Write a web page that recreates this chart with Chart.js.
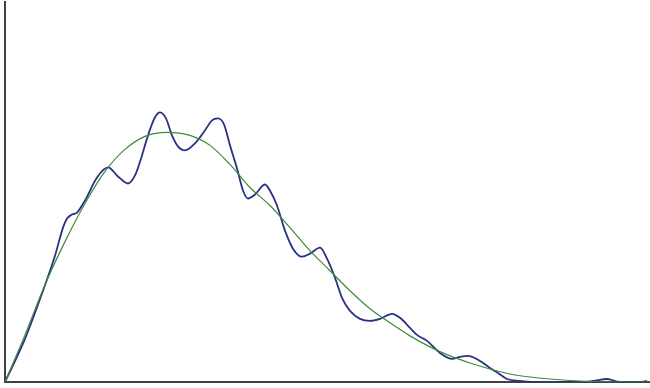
<!DOCTYPE html>
<html>
<head>
<meta charset="utf-8">
<script src="https://cdn.jsdelivr.net/npm/chart.js@4"></script>
<style>
  html, body { margin: 0; padding: 0; background: #ffffff; }
  #wrap { width: 650px; height: 388px; }
</style>
</head>
<body>
<div id="wrap"><canvas id="c" width="650" height="388"></canvas></div>
<script>
// Fitted smooth density (green)
const fitX = [0, 20, 40, 60, 80, 100, 120, 140, 162, 185, 205, 225, 245, 265, 285, 305, 325, 345, 365, 385, 405, 425, 445, 465, 485, 505, 525, 545, 575, 615, 645];
const fitY = [0, 47, 97, 140, 178, 210, 232, 245, 249, 246, 236, 217, 194, 176, 154, 131, 111, 91, 73, 59, 46, 35, 26, 19, 13, 8, 5, 3, 1, 0, 0];

// Empirical density estimate (blue)
const estX = [0, 20, 38, 50, 58, 62, 67, 72, 80, 92, 103, 113, 123, 130, 137, 143, 150, 155, 161, 167, 173, 180, 190, 200, 207, 213, 219, 225, 232, 238, 243, 250, 260, 266, 272, 280, 288, 297, 305, 315, 322, 330, 337, 345, 355, 365, 375, 387, 395, 405, 412, 422, 435, 447, 455, 463, 475, 485, 493, 502, 515, 528, 540, 575, 588, 602, 615, 625, 635, 642];
const estY = [0, 43, 91, 126, 154, 163, 167, 169, 181, 204, 214, 205, 198, 206, 226, 246, 264, 269, 263, 246, 235, 231, 238, 251, 261, 263, 257, 236, 213, 191, 183, 187, 197, 189, 176, 151, 133, 125, 128, 134, 123, 104, 84, 71, 63, 61, 63, 68, 64, 54, 47, 41, 29, 23, 25, 26, 21, 14, 9, 3, 1, 0, 0, 0, 1, 3, 0, 0, 0, 1];

const toPoints = (xs, ys) => xs.map((x, i) => ({ x: x, y: ys[i] }));

new Chart(document.getElementById('c'), {
  type: 'line',
  data: {
    datasets: [
      {
        data: toPoints(fitX, fitY),
        borderColor: '#3f8a3a',
        borderWidth: 1.2,
        pointRadius: 0,
        fill: false,
        cubicInterpolationMode: 'monotone'
      },
      {
        data: toPoints(estX, estY),
        borderColor: '#2c2f86',
        borderWidth: 1.8,
        pointRadius: 0,
        fill: false,
        cubicInterpolationMode: 'monotone'
      }
    ]
  },
  options: {
    responsive: false,
    animation: false,
    layout: { padding: { left: 5, top: 2, right: 0, bottom: 6 } },
    plugins: { legend: { display: false }, tooltip: { enabled: false } },
    scales: {
      x: {
        type: 'linear',
        min: 0,
        max: 645,
        ticks: { display: false },
        grid: { display: false, drawTicks: false },
        border: { display: true, color: '#404040', width: 2 }
      },
      y: {
        min: 0,
        max: 379,
        ticks: { display: false },
        grid: { display: false, drawTicks: false },
        border: { display: true, color: '#404040', width: 2 }
      }
    }
  }
});
</script>
</body>
</html>
